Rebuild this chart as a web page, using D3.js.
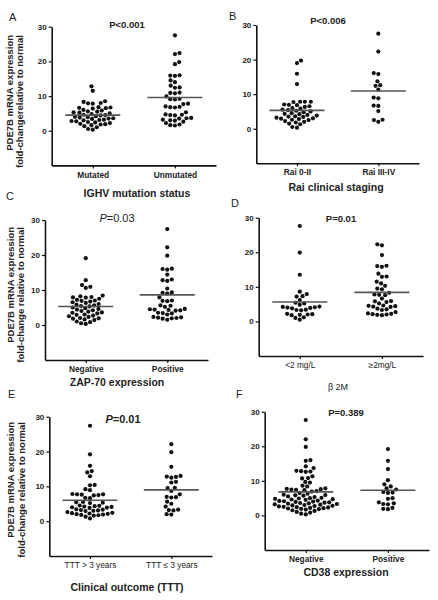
<!DOCTYPE html>
<html><head><meta charset="utf-8">
<script src="https://cdn.jsdelivr.net/npm/d3@7"></script>
<style>body{margin:0;background:#fff}svg{display:block}text{font-family:"Liberation Sans",Arial,sans-serif}</style>
</head><body><svg id="c" width="438" height="600"></svg>
<script>
const panelLetters = ["A","B","C","D","E","F"];
const pLabels = ["P<0.001","P<0.006","P=0.03","P=0.01","P=0.01","P=0.389"];
const xTitles = ["IGHV mutation status","Rai clinical staging","ZAP-70 expression","\u03B2 2M","Clinical outcome (TTT)","CD38 expression"];
const yTitleLine1 = "PDE7B mRNA expression";
const yTitleLine2 = ["fold-changerelative to normal","","fold-change relative to normal","","fold-change relative to normal",""];
const categories = [["Mutated","Unmutated"],["Rai 0-II","Rai III-IV"],["Negative","Positive"],["<2 mg/L","\u22652mg/L"],["TTT > 3 years","TTT \u2264 3 years"],["Negative","Positive"]];
const yTicks = [0,10,20,30];
const yDomain = [-10,30];

const valuesA1 = [12.8,11.5,8.5,8.3,8.0,7.8,7.9,6.8,6.7,6.6,6.5,6.4,6.0,5.8,5.6,5.5,5.3,5.2,5.0,4.8,4.6,4.5,4.4,4.2,4.0,3.9,3.8,3.6,3.5,3.4,3.2,3.1,3.0,2.8,2.7,2.5,2.4,2.2,2.0,1.9,1.8,1.6,1.3,1.0,0.5,0.3];
const valuesA2 = [27.5,22.4,22.1,19.8,19.2,16.0,15.9,15.8,14.5,14.0,13.0,12.5,12.4,11.0,10.9,10.8,9.9,9.2,9.1,9.0,7.8,7.7,7.0,6.9,6.8,6.7,5.3,4.7,4.6,4.5,4.4,3.7,3.6,3.5,3.2,3.0,2.9,2.6,2.2,1.8,1.6,1.5];
const valuesB1 = [19.7,19.0,15.9,12.9,7.8,7.8,7.7,7.8,7.0,6.9,6.8,6.5,6.3,6.0,5.8,5.5,5.4,5.2,5.0,4.8,4.5,4.3,4.2,4.0,3.8,3.6,3.5,3.4,3.2,3.0,2.9,2.8,2.6,2.5,2.2,2.0,1.8,1.5,1.3,0.5,0.3];
const valuesB2 = [27.5,22.3,16.1,15.8,13.7,12.6,12.4,11.3,9.0,8.8,6.7,6.6,5.1,2.6,2.5,2.0];
const valuesC1 = [19.1,12.8,11.4,10.9,10.6,8.4,8.2,8.0,7.9,7.8,7.5,7.2,7.0,6.9,6.7,6.5,6.3,6.0,5.8,5.6,5.4,5.3,5.0,4.8,4.6,4.4,4.2,4.0,3.8,3.6,3.5,3.3,3.0,2.9,2.7,2.5,2.3,2.0,1.9,1.8,1.6,1.4,1.0,0.8,0.5,0.3];
const valuesC2 = [27.4,22.2,19.8,16.1,16.0,15.8,14.4,13.0,12.8,12.6,10.4,9.3,9.2,9.0,7.9,7.0,6.9,6.8,5.6,5.5,5.2,4.6,4.5,4.4,4.3,4.2,4.1,3.5,3.4,3.3,3.0,2.3,2.2,2.1,2.0,1.9,1.8,1.5];
const valuesD1 = [27.6,19.9,13.5,8.6,7.9,7.3,7.2,6.2,5.4,5.2,4.8,4.3,4.2,4.1,4.0,3.9,3.8,3.4,3.3,3.2,2.2,2.1,2.0,1.9,1.8,1.2,1.0,0.5];
const valuesD2 = [22.3,22.0,19.2,16.1,16.0,15.8,13.8,13.0,12.9,11.5,11.0,10.3,9.5,9.3,8.3,7.8,7.7,7.6,6.6,5.9,5.8,5.6,5.2,4.6,4.5,4.4,4.3,4.2,3.7,3.5,3.3,2.7,2.3,2.2,2.1,2.0,1.9,1.8];
const valuesE1 = [27.4,19.2,15.9,14.4,14.0,12.9,10.4,10.3,9.2,8.9,7.8,7.7,7.7,7.6,7.5,7.4,6.7,6.6,5.5,5.4,5.3,5.2,4.5,4.4,4.3,4.2,4.1,4.0,3.9,3.8,3.4,3.3,3.2,3.1,3.0,2.9,2.6,2.4,2.3,2.2,2.1,2.0,1.9,1.8,1.7,1.6,1.3,0.8];
const valuesE2 = [22.1,19.8,15.6,13.0,12.8,12.7,12.5,11.3,11.1,9.6,9.5,8.7,7.7,7.0,6.9,6.8,5.6,5.0,4.2,3.3,3.2,3.1,2.0,1.9];
const valuesF1 = [27.6,22.0,19.8,16.0,15.8,14.2,13.7,12.9,12.8,12.7,12.6,11.3,10.8,10.7,9.7,9.5,8.6,8.4,7.8,7.7,7.6,7.5,7.4,7.3,7.0,6.9,6.5,6.3,6.0,5.9,5.8,5.7,5.5,5.3,5.1,5.0,4.9,4.8,4.7,4.6,4.5,4.3,4.2,4.1,4.0,3.9,3.8,3.7,3.6,3.5,3.4,3.3,3.2,3.1,3.0,2.9,2.8,2.7,2.6,2.5,2.4,2.3,2.2,2.1,2.0,1.9,1.8,1.7,1.5,1.3,1.0,0.8,0.5,0.3];
const valuesF2 = [19.2,15.8,13.4,10.2,9.0,8.4,7.8,7.5,6.8,6.6,6.5,5.0,4.8,3.8,3.5,3.3,3.2,2.2,1.9,1.8];
const lineValues = [[4.5,9.6],[5.3,10.9],[5.3,8.6],[5.6,8.4],[6.0,9.0],[6.8,7.3]];

const groups = [[valuesA1,valuesA2],[valuesB1,valuesB2],[valuesC1,valuesC2],[valuesD1,valuesD2],[valuesE1,valuesE2],[valuesF1,valuesF2]];

// layout (pixels)
const layout = [
  {x0:51.7,x1:216,top:26.7,bot:165.4, letter:[9,21], p:[127,28], title:[137,197], tick:178, yt:[35,13,23]},
  {x0:256.3,x1:419,top:25,bot:163.3, letter:[229,20], p:[328,24], title:[336,191], tick:175},
  {x0:45,x1:208,top:220,bot:360, letter:[6,200], p:[117,222], title:[117,386], tick:372, yt:[227,14,24]},
  {x0:258.7,x1:423,top:217.7,bot:356, letter:[231,207], p:[341,222], title:[338,390], tick:368},
  {x0:49.3,x1:212,top:416.7,bot:556, letter:[8,398], p:[123,423], title:[127,591], tick:568, yt:[422,14,25]},
  {x0:264.7,x1:429,top:411.7,bot:550, letter:[236,398], p:[346,416], title:[346,576], tick:562}
];
const pStyle = [
  {size:9.5,weight:"bold",italicP:false},
  {size:9.5,weight:"bold",italicP:false},
  {size:11,weight:"normal",italicP:true},
  {size:9.5,weight:"bold",italicP:false},
  {size:11,weight:"bold",italicP:true},
  {size:9.5,weight:"bold",italicP:false}
];
const tickWeight = ["bold","bold","bold","normal","normal","bold"];
const titleStyle = [{w:"bold",s:10.5},{w:"bold",s:10.5},{w:"bold",s:10.5},{w:"normal",s:9},{w:"bold",s:10.5},{w:"bold",s:10.5}];

const svg = d3.select("#c");
const R = 2.1, D = 4.7;

function swarm(vals, y, cx) {
  const sorted = vals.map(v => ({v, py: y(v)})).sort((a,b) => a.v - b.v);
  const placed = [];
  sorted.forEach((p, i) => {
    const intervals = [];
    placed.forEach(q => {
      const dy = Math.abs(q.py - p.py);
      if (dy < D) { const h = Math.sqrt(D*D - dy*dy); intervals.push([q.dx - h, q.dx + h]); }
    });
    const cands = [0];
    intervals.forEach(iv => { cands.push(iv[0], iv[1]); });
    const ok = cands.filter(c => intervals.every(iv => c <= iv[0] + 1e-6 || c >= iv[1] - 1e-6));
    ok.sort((a,b) => Math.abs(a) - Math.abs(b) || ((i % 2) ? a - b : b - a));
    p.dx = ok[0];
    placed.push(p);
  });
  return placed.map(p => ({v: p.v, x: cx + p.dx, y: p.py}));
}

layout.forEach((L, k) => {
  const g = svg.append("g");
  const y = d3.scaleLinear().domain(yDomain).range([L.bot, L.top]);
  const x = d3.scalePoint().domain(categories[k]).range([L.x0, L.x1]).padding(0.5);

  const ya = g.append("g").attr("transform", `translate(${L.x0},0)`)
    .call(d3.axisLeft(y).tickValues(yTicks).tickSize(3).tickSizeOuter(0).tickPadding(2));
  const xa = g.append("g").attr("transform", `translate(0,${L.bot})`)
    .call(d3.axisBottom(x).tickSize(3).tickSizeOuter(0).tickPadding(3));
  [ya, xa].forEach(a => {
    a.select(".domain").attr("stroke", "#111").attr("stroke-width", 1.6);
    a.selectAll(".tick line").attr("stroke", "#111").attr("stroke-width", 1.2);
  });
  ya.selectAll(".tick text").attr("font-size", 8).attr("font-weight", "bold").attr("fill", "#222")
    .attr("font-family", '"Liberation Sans",Arial,sans-serif');
  xa.selectAll(".tick text").attr("font-size", 8.3).attr("font-weight", tickWeight[k]).attr("fill", "#222")
    .attr("font-family", '"Liberation Sans",Arial,sans-serif')
    .attr("y", null).attr("dy", null).attr("transform", `translate(0,${L.tick - L.bot})`);

  // points
  groups[k].forEach((vals, j) => {
    const cx = x(categories[k][j]);
    const pts = swarm(vals, y, cx);
    g.append("g").selectAll("circle").data(pts).join("circle")
      .attr("cx", d => d.x).attr("cy", d => d.y).attr("r", R).attr("fill", "#111");
    g.append("line").attr("x1", cx - 27.5).attr("x2", cx + 27.5)
      .attr("y1", y(lineValues[k][j])).attr("y2", y(lineValues[k][j]))
      .attr("stroke", "#555").attr("stroke-width", 1.6);
  });

  // panel letter
  g.append("text").attr("x", L.letter[0]).attr("y", L.letter[1]).attr("font-size", 11).attr("fill", "#222").text(panelLetters[k]);
  // p value
  const ps = pStyle[k];
  const pt = g.append("text").attr("x", L.p[0]).attr("y", L.p[1]).attr("text-anchor", "middle")
    .attr("font-size", ps.size).attr("font-weight", ps.weight).attr("fill", "#222");
  pt.append("tspan").attr("font-style", ps.italicP ? "italic" : "normal").text(pLabels[k].slice(0,1));
  pt.append("tspan").text(pLabels[k].slice(1));
  // x title
  g.append("text").attr("x", L.title[0]).attr("y", L.title[1]).attr("text-anchor", "middle")
    .attr("font-size", titleStyle[k].s).attr("font-weight", titleStyle[k].w).attr("fill", "#222").text(xTitles[k]);
  // y title
  if (L.yt) {
    g.append("text").attr("transform", `translate(${L.yt[1]},${L.yt[0]}) rotate(-90)`).attr("text-anchor", "end")
      .attr("font-size", 9.5).attr("font-weight", "bold").attr("fill", "#222").text(yTitleLine1);
    g.append("text").attr("transform", `translate(${L.yt[2]},${L.yt[0]}) rotate(-90)`).attr("text-anchor", "end")
      .attr("font-size", 9.5).attr("font-weight", "bold").attr("fill", "#222").text(yTitleLine2[k]);
  }
});
</script></body></html>
